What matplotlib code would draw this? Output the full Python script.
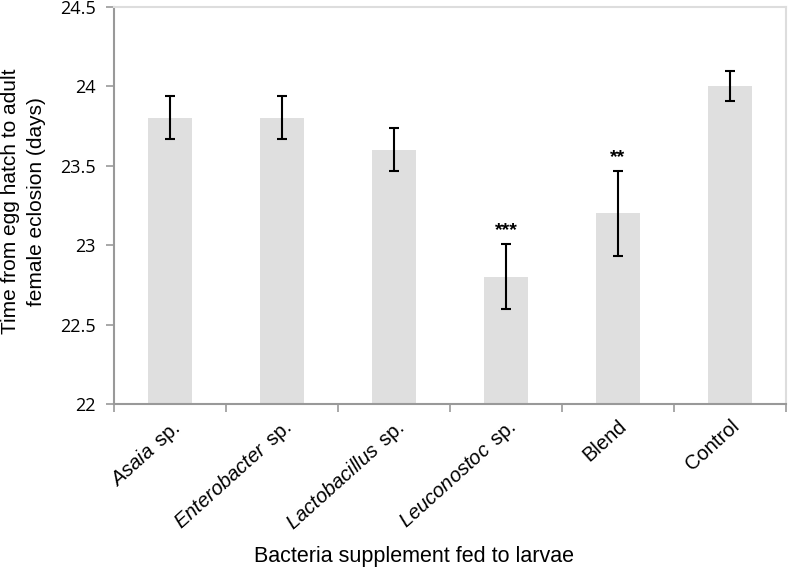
import matplotlib
matplotlib.use('Agg')
import matplotlib.pyplot as plt
from matplotlib.transforms import ScaledTranslation

plt.rcParams['font.family'] = ['Liberation Sans', 'DejaVu Sans']
plt.rcParams['mathtext.fontset'] = 'custom'
plt.rcParams['mathtext.rm'] = 'Liberation Sans'
plt.rcParams['mathtext.it'] = 'Liberation Sans:italic'

# data
labels = [r'$\mathit{Asaia}\,$ sp.', r'$\mathit{Enterobacter}\,$ sp.', r'$\mathit{Lactobacillus}\,$ sp.',
          r'$\mathit{Leuconostoc}\,$ sp.', 'Blend', 'Control']
means = [23.8, 23.8, 23.6, 22.8, 23.2, 24.0]
err_low = [0.13, 0.13, 0.13, 0.20, 0.27, 0.09]
err_high = [0.14, 0.14, 0.14, 0.21, 0.27, 0.10]
stars = ['', '', '', '***', '**', '']
yticks = [22, 22.5, 23, 23.5, 24, 24.5]

fig = plt.figure(figsize=(7.88, 5.72), dpi=100)
ax = fig.add_axes([0.1447, 0.2937, 0.8528, 0.694])

x = list(range(len(labels)))
ax.bar(x, [m - 22 for m in means], bottom=22, width=0.4, color='#dfdfdf', zorder=1)
ax.errorbar(x, means, yerr=[err_low, err_high], fmt='none', ecolor='black',
            elinewidth=1.5, capsize=3.3, capthick=1.5, zorder=2)
for xi, m, e, s in zip(x, means, err_high, stars):
    if s:
        ax.text(xi, m + e + 0.03, s, ha='center', va='bottom', fontsize=14, fontweight='bold')

ax.set_xlim(-0.5, 5.5)
ax.set_ylim(22, 24.5)
ax.set_yticks(yticks)
ax.set_yticklabels([f'{v:g}' for v in yticks], fontsize=13, family=['Open Sans', 'DejaVu Sans'])
ax.set_xticks(x)
ax.set_xticklabels(labels, rotation=42, ha='right', rotation_mode='anchor', fontsize=14.5)
shift = ScaledTranslation(0.08, 0, fig.dpi_scale_trans)
for lab in ax.get_xticklabels():
    lab.set_transform(lab.get_transform() + shift)
ax.set_xticks([i - 0.5 for i in range(len(labels) + 1)], minor=True)
ax.tick_params(axis='x', which='major', length=0, pad=9)
ax.tick_params(axis='x', which='minor', length=6, color='#999999', width=1.2)
ax.tick_params(axis='y', length=6, color='#999999', width=1.2, pad=7)

for side in ['left', 'bottom']:
    ax.spines[side].set_color('#999999')
    ax.spines[side].set_linewidth(1.5)
for side in ['top', 'right']:
    ax.spines[side].set_color('#dddddd')
    ax.spines[side].set_linewidth(1.5)

ax.set_ylabel('Time from egg hatch to adult\nfemale eclosion (days)', fontsize=15, va='center',
              linespacing=1.45)
ax.yaxis.set_label_coords(-0.135, 0.51)
ax.set_xlabel('Bacteria supplement fed to larvae', fontsize=15.5, va='center')
ax.xaxis.set_label_coords(0.446, -0.385)

fig.savefig('out.png', dpi=100)
